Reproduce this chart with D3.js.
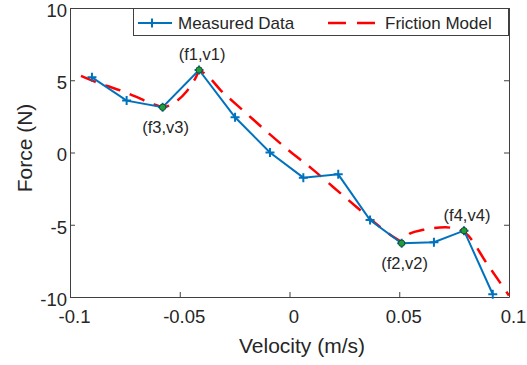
<!DOCTYPE html>
<html>
<head>
<meta charset="utf-8">
<script src="https://cdn.jsdelivr.net/npm/d3@7"></script>
<style>
  body { margin: 0; background: #fff; }
  svg text { font-family: Arial, "Liberation Sans", sans-serif; fill: #262626; }
</style>
</head>
<body>
<div id="container"></div>
<script>
/* CONSTANTS AND GLOBALS */
const width = 527;
const height = 365;
const plotLeft = 70, plotRight = 509, plotTop = 8, plotBottom = 297;

/* DATA */
const measuredVelocity = [-0.09, -0.0742, -0.0578, -0.0412, -0.0248, -0.0089, 0.0063, 0.0222, 0.0367, 0.0511, 0.0658, 0.0795, 0.0926];
const measuredForce    = [5.2, 3.59, 3.13, 5.71, 2.44, 0.0, -1.74, -1.51, -4.67, -6.28, -6.21, -5.41, -9.81];

const modelVelocity = [-0.095, -0.089, -0.083, -0.076, -0.07, -0.063, -0.057, -0.053, -0.047, -0.043, -0.041, -0.03, -0.02, -0.01, 0, 0.01, 0.02, 0.03, 0.04, 0.048, 0.051, 0.055, 0.061, 0.066, 0.071, 0.076, 0.08, 0.09, 0.1];
const modelForce    = [5.3, 4.92, 4.6, 4.24, 3.86, 3.4, 3.15, 3.4, 4.2, 5.1, 5.6, 4.1, 2.75, 1.4, 0.1, -1.1, -2.4, -3.7, -5.0, -5.9, -6.15, -5.6, -5.35, -5.22, -5.18, -5.28, -5.55, -7.7, -9.9];

// labelled key points: index into measured arrays
const keyNames  = ["(f1,v1)", "(f3,v3)", "(f2,v2)", "(f4,v4)"];
const keyIndex  = [3, 2, 9, 11];
const keyAbove  = [true, false, false, true];

const xTicks = [-0.1, -0.05, 0, 0.05, 0.1];
const xTickLabels = ["-0.1", "-0.05", "0", "0.05", "0.1"];
const yTicks = [10, 5, 0, -5, -10];
const yTickLabels = ["10", "5", "0", "-5", "-10"];

const measured = measuredVelocity.map((v, i) => ({ v: v, f: measuredForce[i] }));
const model = modelVelocity.map((v, i) => ({ v: v, f: modelForce[i] }));

const svg = d3.select("#container")
  .append("svg")
  .attr("width", width)
  .attr("height", height)
  .style("background-color", "white");

/* SCALES */
const xScale = d3.scaleLinear().domain([-0.1, 0.1]).range([plotLeft, plotRight]);
const yScale = d3.scaleLinear().domain([-10, 10]).range([plotBottom, plotTop]);

/* AXES */
function styleAxis(g) {
  g.select(".domain").attr("stroke", "#404040");
  g.selectAll(".tick line").attr("stroke", "#404040");
  g.selectAll(".tick text").style("font-size", "18.5px").attr("fill", "#262626");
}

svg.append("g")
  .attr("transform", `translate(0,${plotBottom})`)
  .call(d3.axisBottom(xScale).tickValues(xTicks).tickSizeInner(-5).tickSizeOuter(0).tickPadding(13)
    .tickFormat((d, i) => xTickLabels[i]))
  .call(styleAxis)
  .call(g => g.selectAll(".tick text").attr("x", 4));

svg.append("g")
  .attr("transform", `translate(${plotLeft},0)`)
  .call(d3.axisLeft(yScale).tickValues(yTicks).tickSizeInner(-5).tickSizeOuter(0).tickPadding(3)
    .tickFormat((d, i) => yTickLabels[i]))
  .call(styleAxis)
  .call(g => g.selectAll(".tick text").attr("dy", "0.45em"));

svg.append("g")
  .attr("transform", `translate(0,${plotTop})`)
  .call(d3.axisTop(xScale).tickValues(xTicks).tickSizeInner(-5).tickSizeOuter(0).tickFormat(""))
  .call(styleAxis);

svg.append("g")
  .attr("transform", `translate(${plotRight},0)`)
  .call(d3.axisRight(yScale).tickValues(yTicks).tickSizeInner(-5).tickSizeOuter(0).tickFormat(""))
  .call(styleAxis);

/* AXIS TITLES */
svg.append("text")
  .attr("x", 302)
  .attr("y", 353)
  .attr("text-anchor", "middle")
  .style("font-size", "21px")
  .text("Velocity (m/s)");

svg.append("text")
  .attr("transform", "translate(32,148) rotate(-90)")
  .attr("text-anchor", "middle")
  .style("font-size", "21px")
  .text("Force (N)");

/* LINES */
const blue = "#0072BD";
const red = "#FF0000";

svg.append("path")
  .datum(model)
  .attr("fill", "none")
  .attr("stroke", red)
  .attr("stroke-width", 2.5)
  .attr("stroke-dasharray", "16,10")
  .attr("d", d3.line().x(d => xScale(d.v)).y(d => yScale(d.f)).curve(d3.curveMonotoneX));

svg.append("path")
  .datum(measured)
  .attr("fill", "none")
  .attr("stroke", blue)
  .attr("stroke-width", 2)
  .attr("d", d3.line().x(d => xScale(d.v)).y(d => yScale(d.f)));

svg.selectAll(".plus")
  .data(measured)
  .join("path")
  .attr("class", "plus")
  .attr("transform", d => `translate(${xScale(d.v)},${yScale(d.f)})`)
  .attr("d", "M-4.5,0H4.5M0,-4.5V4.5")
  .attr("stroke", blue)
  .attr("stroke-width", 2);

/* KEY POINTS */
const keys = keyIndex.map((k, i) => ({ name: keyNames[i], d: measured[k], above: keyAbove[i] }));

svg.selectAll(".key")
  .data(keys)
  .join("circle")
  .attr("class", "key")
  .attr("cx", d => xScale(d.d.v))
  .attr("cy", d => yScale(d.d.f))
  .attr("r", 3.2)
  .attr("fill", "#1e9e3c")
  .attr("stroke", "#1c3320")
  .attr("stroke-width", 0.8);

svg.selectAll(".keylabel")
  .data(keys)
  .join("text")
  .attr("class", "keylabel")
  .attr("x", d => xScale(d.d.v) + 3)
  .attr("y", d => yScale(d.d.f) + (d.above ? -10 : 26))
  .attr("text-anchor", "middle")
  .style("font-size", "16.5px")
  .text(d => d.name);

/* LEGEND */
const legend = svg.append("g");
legend.append("rect")
  .attr("x", 133.5).attr("y", 8.5)
  .attr("width", 375).attr("height", 27)
  .attr("fill", "white")
  .attr("stroke", "#404040")
  .attr("stroke-width", 1);

legend.append("line")
  .attr("x1", 138).attr("x2", 172).attr("y1", 23).attr("y2", 23)
  .attr("stroke", blue).attr("stroke-width", 2);
legend.append("path")
  .attr("transform", "translate(152,23)")
  .attr("d", "M-4.5,0H4.5M0,-4.5V4.5")
  .attr("stroke", blue).attr("stroke-width", 2);
legend.append("text")
  .attr("x", 178).attr("y", 29)
  .style("font-size", "17px")
  .text("Measured Data");

legend.append("line")
  .attr("x1", 328).attr("x2", 375).attr("y1", 23).attr("y2", 23)
  .attr("stroke", red).attr("stroke-width", 2.5)
  .attr("stroke-dasharray", "18,11");
legend.append("text")
  .attr("x", 385).attr("y", 29)
  .style("font-size", "17px")
  .text("Friction Model");
</script>
</body>
</html>
